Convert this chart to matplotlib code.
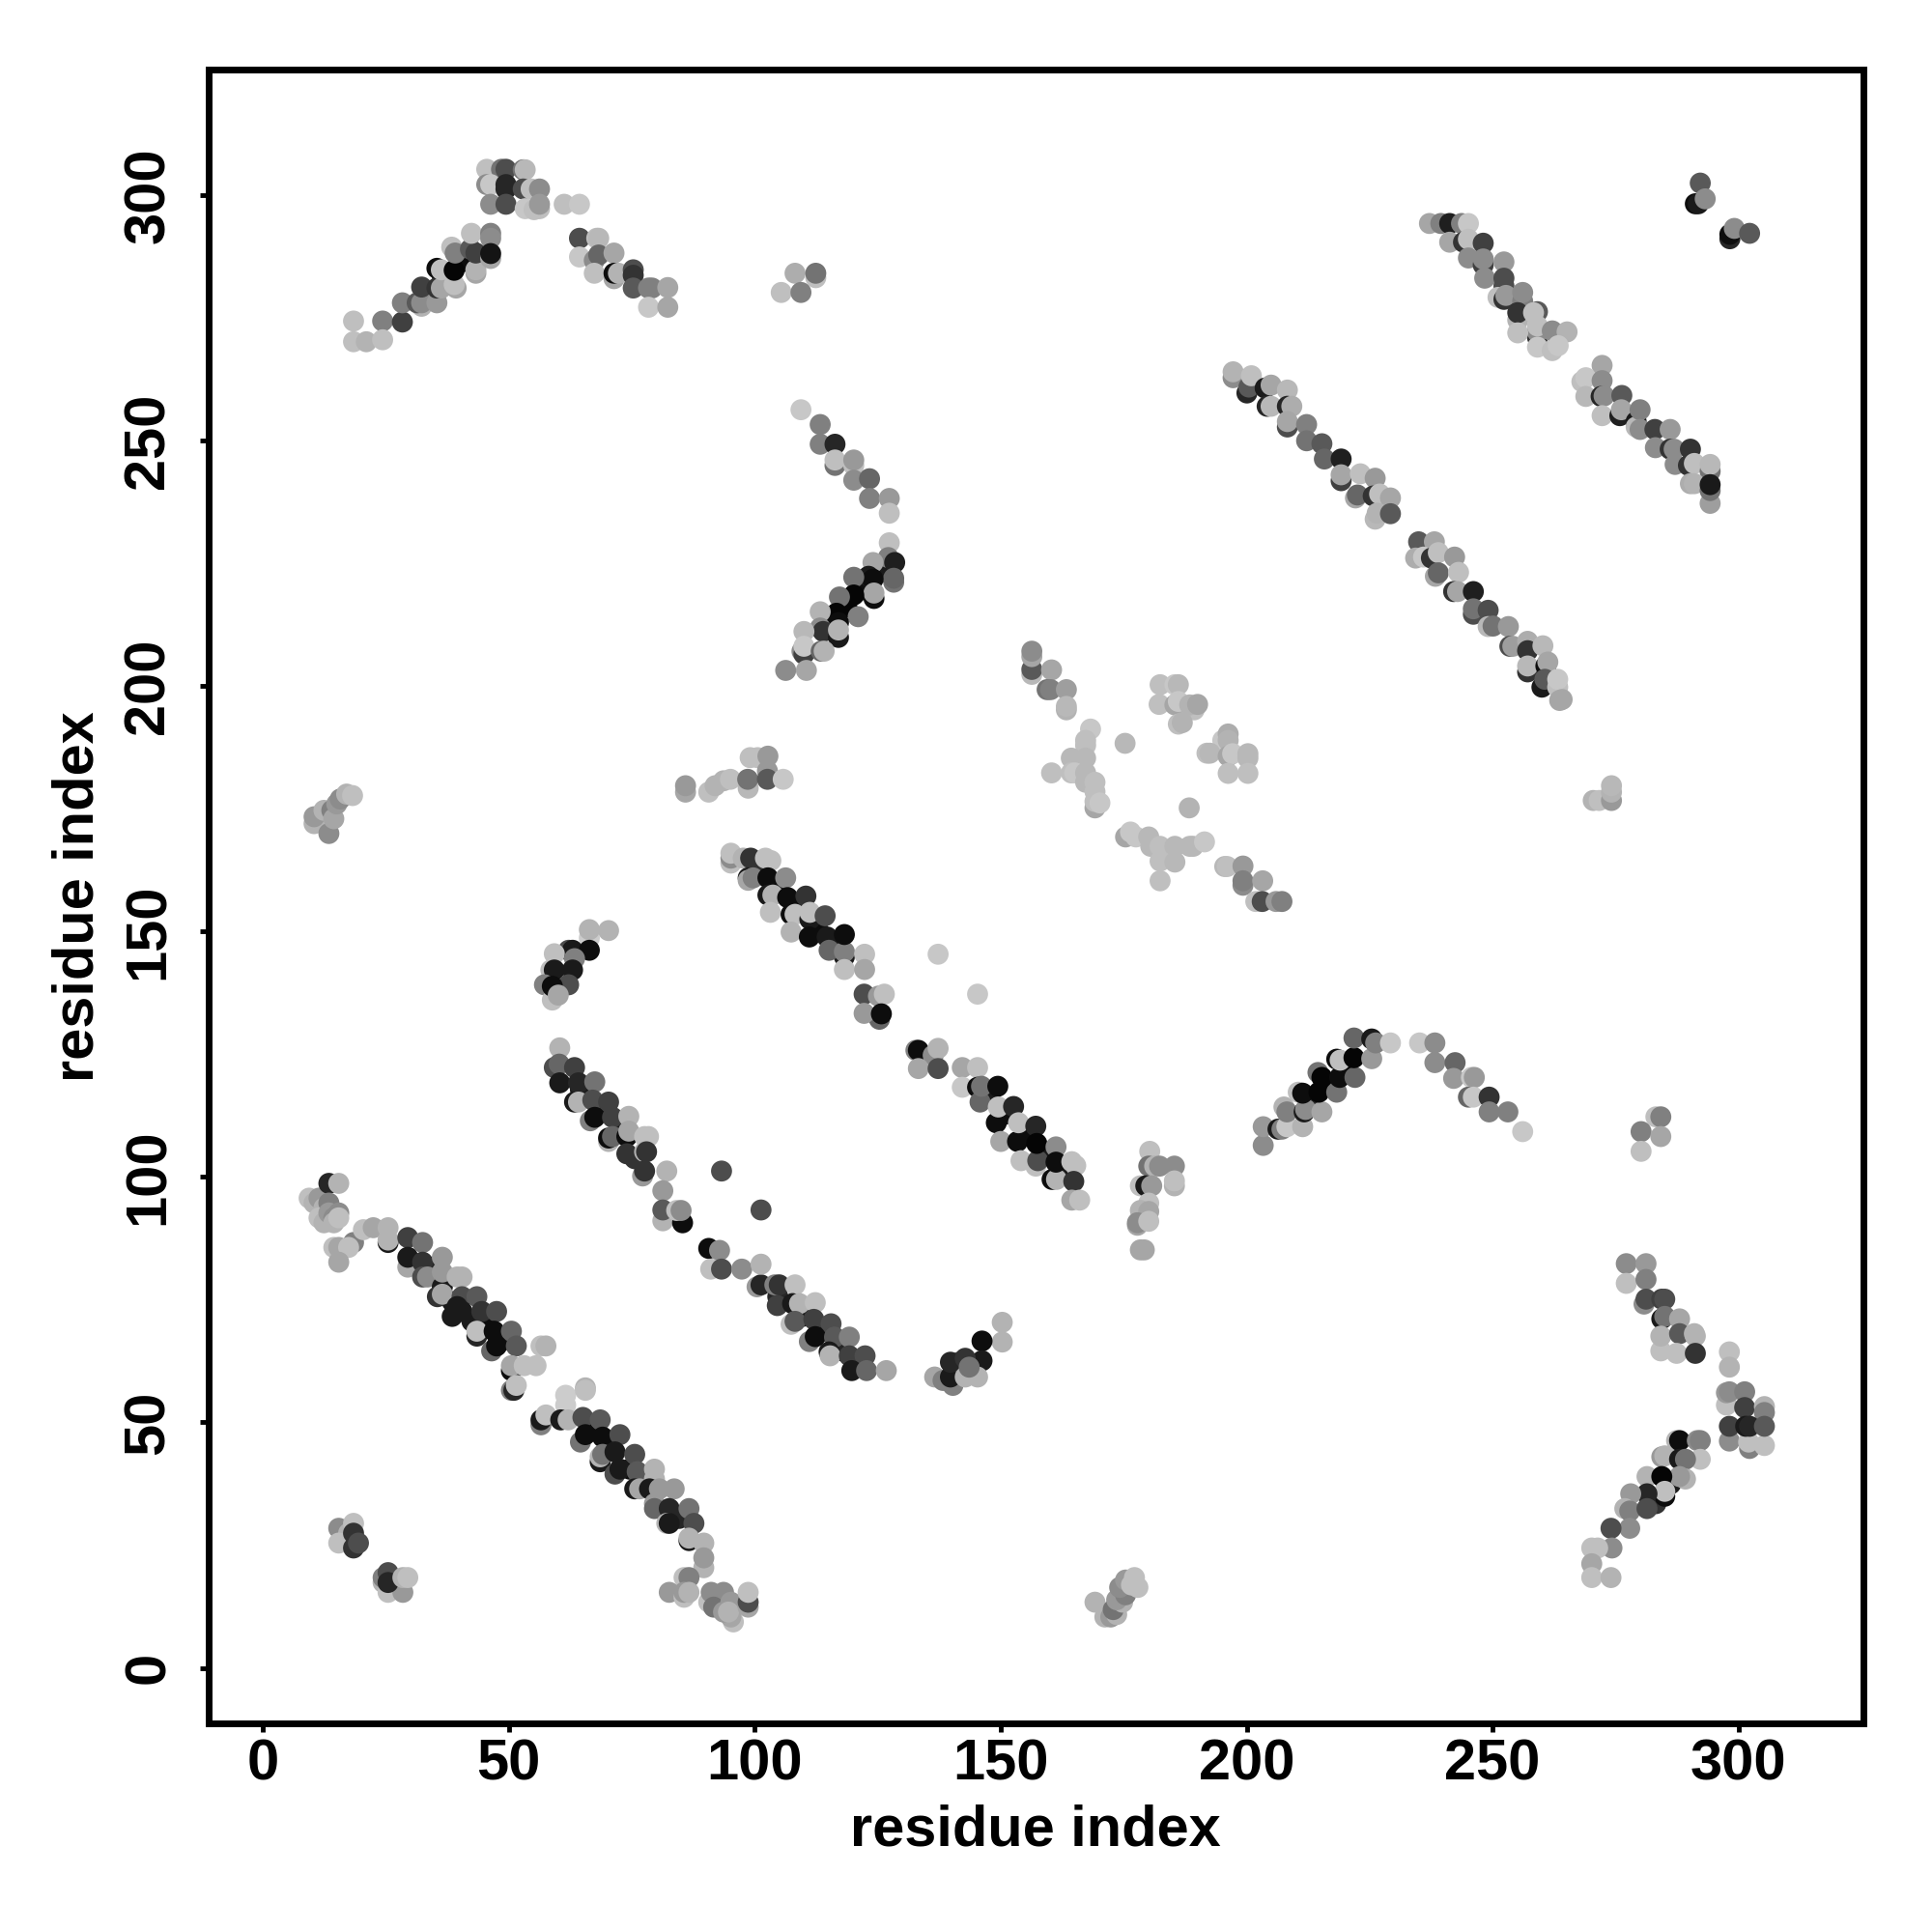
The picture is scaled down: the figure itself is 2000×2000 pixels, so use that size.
import matplotlib
matplotlib.use("Agg")
import matplotlib.pyplot as plt

# every contact is (residue i, residue j, gray level)
dark_cores = [
    (38,74,.1),(42,70,.1),(45,69,.05),(34,81,.15),(48,66,.1),(66,48,.05),(70,44,.1),(74,40,.05),(77,38,.15),(84,30,.15),
    (64,117,.1),(68,113,.1),(72,109,.1),(75,103,.2),(104,158,.1),(108,154,.05),(112,150,.05),(116,147,.1),(100,161,.2),
    (150,112,.05),(154,108,.05),(158,104,.1),(162,100,.1),(147,116,.1),(104,75,.15),(109,71,.1),(113,68,.1),(117,64,.15),
    (118,215,.02),(120,218,.05),(114,212,.1),(125,222,.1),(216,118,.05),(219,121,.02),(212,114,.15),(40,285,.05),(36,282,.2),
    (142,60,.15),(285,37,.1),(282,33,.2),
]
strand_low = [
    (9,95,.75),(10,94,.7),(11,95,.6),(12,93,.7),(13,98,.15),(13,94,.5),(11,91,.75),(12,90,.7),(13,92,.6),(14,91,.55),
    (15,92,.55),(15,98,.7),(14,90,.7),(15,91,.75),(14,85,.75),(15,85,.65),(18,86,.5),(17,85,.75),(15,82,.65),
    (20,88.6,.75),(22,89,.65),(25,89,.7),(25,86,.1),(25,86.5,.7),(29,87,.25),(32,86,.45),(29,81,.65),(29,83,.1),(32,82,.2),
    (36,83,.6),(32,79,.3),(33,79,.55),(36,77,.1),(36,80,.6),(39,79,.7),(40,79,.7),(35,75,.2),(36,75.5,.65),(40,75,.3),
    (43,75,.35),(38,71,.1),(39,73,.1),(40,72,.1),(44,72,.2),(47,72,.3),(43,67,.15),(43,68,.75),(46,64,.4),(46.5,68,.05),
    (50,68,.4),(47,65,.05),(51,65,.35),(50,60,.05),(50,61,.65),(56,65,.75),(57,65,.7),(52.6,61,.75),(55,61,.75),
    (50,56,.5),(50.5,56,.15),(51,57,.75),
]
strand_low2 = [
    (56,49,.5),(56,50,.1),(57,51,.75),(61,55,.8),(61,53,.8),(65,56.5,.7),(65,56,.75),(60,50,.1),(61.5,50,.7),(64.5,50.5,.3),
    (68,50,.35),(64,45.5,.45),(65,47,.05),(68.5,46.5,.05),(72,47,.3),(68,41.5,.1),(68,42.5,.7),(68.5,43,.45),(71,39,.3),
    (71,43.5,.1),(75,43,.3),(72,40,.1),(75.5,39.5,.35),(79,40,.7),(79,38,.7),(75,36,.1),(76,36,.65),(78,36,.1),(80,36,.6),
    (83,36,.6),(79,33,.6),(79,32,.4),(82,32,.15),(86,32,.45),(81.5,29,.7),(82,29,.1),(87,29,.3),(86,25.5,.1),(86,26,.7),
    (89,25,.7),(89,20,.7),(89,22,.6),(85,18,.75),(86,18,.5),(82,15,.6),(85,14,.75),(85,15,.6),(86,15,.7),
    (90,13,.75),(90.5,15,.55),(93,15,.55),(91,12,.45),(95,9,.75),(94.5,10,.65),(94.5,13,.6),(93,11,.6),(94,11,.7),
    (98,12,.65),(98,13,.3),(98,15,.75),
]
blob_low = [
    (15,28,.55),(17,27,.7),(18,29,.75),(15,25,.75),(18,27,.2),(18,24,.2),(19,25,.3),
    (24,17,.7),(25,15,.75),(28,15,.6),(24,18,.5),(25,19,.3),(25,17,.15),(28,18,.7),(29,18,.75),
]
strand_mid = [
    (94.5,163,.75),(94.5,164,.55),(94.5,165,.75),(97,164,.7),(98.5,164,.2),(101.5,164,.75),(102.6,163.5,.75),
    (98,160,.1),(98,159.5,.65),(99,160,.5),(102,160,.05),(105.6,160,.55),(102,156.5,.1),(103,156.5,.7),(106,156,.05),
    (109.7,156.3,.2),(102.5,153,.75),(106.7,152.6,.05),(107.5,152.6,.75),(106.7,149,.7),(110.5,151.6,.1),(110.5,153,.75),
    (113.6,152.3,.3),(110.4,148,.05),(114,148,.1),(117.5,144,.1),(114.4,145.3,.4),(117.5,145,.5),(117.5,148.5,.05),
    (121.6,144.5,.75),(117.5,141.4,.75),(121.6,141.4,.65),(121.5,136.4,.3),(124.4,136,.6),(125.6,136.4,.75),
    (124.6,131.3,.4),(121.5,132.5,.6),(125,132.4,.05),(136.5,144.5,.78),(144.5,136.4,.78),
]
strand_mid2 = [
    (132,125,.5),(132.5,125,.05),(135.5,124,.55),(136.5,125.4,.7),(132.5,121.3,.65),(136.5,121.3,.3),(141.4,121.5,.65),
    (144.5,121.5,.75),(141.4,117.5,.78),(144.5,117.5,.05),(145,114.5,.4),(145.3,117.7,.45),(148.6,117.7,.05),
    (148.3,110.3,.05),(148.7,113.5,.75),(151.8,113.6,.15),(149.2,106.5,.65),(152.6,106.5,.05),(152.8,110.3,.75),
    (156.3,109.6,.15),(153.3,102.6,.75),(156.3,101.5,.75),(156.7,102.6,.3),(156.5,106.1,.02),(160.4,105.4,.55),
    (159.6,98.8,.05),(160.5,98.8,.7),(160.4,102.3,.05),(163.6,102.4,.75),(164.4,101.6,.75),(164,98.4,.2),
    (163.6,94.6,.65),(165.2,94.6,.75),
]
strand_left = [
    (59.8,125.5,.7),(58.7,121.5,.3),(59.7,122.2,.4),(62.8,121.5,.25),(59.8,118.4,.1),(63.6,118.4,.15),(66.9,118.6,.45),
    (62.8,114.5,.1),(63.6,114.5,.7),(66.5,114.9,.3),(69.7,114.5,.25),(66,110.7,.5),(66.9,111.4,.05),(70.5,111.4,.25),
    (73.8,111.6,.7),(69.7,106.5,.7),(69.7,107.2,.05),(70.5,107.5,.4),(73.4,107.5,.05),(73.8,108.6,.65),(77,107.5,.75),
    (77.8,107.5,.75),(73.4,104,.2),(77,104.4,.7),(77.4,104.4,.2),(76.6,99.5,.6),(77,100.5,.2),(81.5,100.5,.7),
    (80.7,96.5,.6),(80.7,90.4,.7),(80.7,92.6,.35),(84.7,90,.05),(83.5,92.5,.75),(84.4,92.5,.55),(92.6,100.5,.3),(100.6,92.6,.3),
]
arc_left = [
    (65.8,147.8,.8),(65.8,149.5,.7),(69.7,149.3,.7),(61.6,145.3,.3),(62.4,145.3,.1),(65.8,145.3,.05),(58.7,144.6,.75),
    (62.8,143.6,.5),(58,141.3,.75),(58.7,141.3,.1),(62.4,141.3,.1),(61.6,138.3,.3),(56.7,138.3,.5),(58.3,135.2,.75),
    (58.3,138,.05),(59.5,136.2,.65),
]
strand_bot = [
    (90,84.8,.05),(92.2,84.4,.55),(90.4,80.6,.75),(92.6,80.6,.3),(96.7,80.6,.55),(99.8,77,.6),(100.6,77.4,.15),(100.6,81.6,.7),
    (103.4,77.4,.5),(104.3,77.4,.2),(107.5,77.4,.75),(103.9,73.2,.25),(107,73.6,.1),(108.4,73.6,.7),(111.6,73.8,.75),
    (106.7,69.4,.75),(107.5,70,.35),(111.3,70.4,.25),(114.8,69.5,.3),(110.4,65.9,.5),(111.6,66.9,.05),(115.5,66.8,.35),
    (118.5,66.8,.5),(114.4,63.8,.1),(114.6,63,.7),(118.5,63,.25),(121.7,63,.3),(119,60,.1),(122,60,.4),(126,60,.65),
]
arc_bot = [
    (149.5,69.8,.7),(149.5,65.8,.7),(145.4,66,.05),(145.4,62,.1),(135.8,58.7,.65),(137.5,58,.5),(139.5,57,.5),(139,58.7,.1),
    (140.8,61.7,.3),(139,61.7,.15),(142,62.5,.2),(142,58.7,.7),(144.5,58.7,.7),(142.8,60.7,.45),
]
arc_mid = [
    (202.4,105.7,.55),(202.4,109.5,.6),(205.4,109,.1),(206.2,109,.5),(207.2,109.5,.78),(210.4,109.5,.7),(206.6,113.5,.7),
    (207.2,112.5,.5),(210.7,112.5,.1),(211,113,.55),(214.3,112.5,.65),(209.5,116.5,.75),(210.4,116.3,.05),(213.5,120.5,.45),
    (213.7,116.5,.02),(217.3,116.5,.45),(214.3,119.5,.02),(217.9,119.5,.05),(221,119.5,.4),(217.3,123.2,.05),(218,123,.75),
    (220.8,123.5,.02),(224.4,123.3,.6),(220.8,127.5,.4),(224.4,127.3,.1),(225.2,126.5,.5),(228.2,126.5,.78),
    (234.1,126.5,.78),(237.2,126.5,.55),(237.2,122.5,.55),(241.3,122.5,.4),(241,119.3,.6),(244.6,119.5,.78),(245.2,119.5,.6),
    (244,115.5,.4),(245,115.5,.78),(248.2,115.5,.2),(248.2,112.5,.5),(252,112.5,.5),(255,108.5,.78),
    (282,111.5,.75),(283,111.5,.5),(279,108.5,.5),(283,107.5,.65),(279,104.5,.75),
]
column_180 = [
    (179.4,104.5,.75),(179.2,101.5,.45),(180.4,101.5,.7),(181.4,101.5,.55),(184.4,101.5,.55),(184.4,97.5,.7),(184.4,98.5,.75),
    (177.5,97.5,.75),(178.6,97.5,.1),(179.8,97.5,.6),(179.2,94,.75),(177.5,92.5,.7),(179.2,92.3,.65),(176.9,89.5,.65),
    (176.9,90,.55),(179.2,90.3,.75),(177.5,84.5,.65),(178.3,84.5,.65),
]
blob_175 = [
    (168.3,13,.7),(170.3,10,.7),(171.5,10,.6),(172.7,10.5,.7),(172,11.5,.45),(173.9,13,.7),(172.7,13.5,.6),(174.5,14.5,.5),
    (173.3,16,.55),(174.5,17.5,.6),(175.7,16.5,.75),(176.3,18,.75),(177,16,.75),
]
right_low = [
    (276,81.7,.55),(280,81.7,.6),(276,77.7,.75),(280,78.5,.5),(279.6,73.5,.55),(280,74.5,.3),(283.2,74.5,.25),(283.8,74.5,.3),
    (283.2,70.5,.1),(283.8,71,.45),(286.8,70.5,.65),(283,64,.75),(283,67,.7),(286.8,67.5,.35),(286.2,63.5,.75),(290,67,.7),
    (289.8,67.5,.7),(290,63.5,.2),(296.9,63.8,.75),(296.9,60.7,.7),(296.3,53,.75),(296.3,55.5,.6),(296.9,55.7,.55),
    (300,55.7,.5),(300,52.5,.25),(304,52.7,.7),(304,51.5,.5),(296.9,45.7,.55),(296.9,48.7,.25),(301,44.2,.5),(300.8,45.5,.75),
    (300.2,48.7,.1),(301,48.7,.15),(304,44.8,.75),(304,48.7,.35),
]
right_arc = [
    (286.2,45.8,.7),(286.8,45.8,.05),(290.4,45.8,.55),(291,45.8,.5),(291,42,.75),(283.2,42.5,.6),(283.8,42.7,.7),(286.8,42,.1),
    (288,42,.45),(288,38,.7),(286.8,38.5,.6),(280.2,38.5,.7),(283.2,38.5,.02),(283.8,34.5,.05),(283.8,35.5,.75),(280.2,35,.15),
    (276.9,35,.6),(275.7,32,.7),(276.7,31.5,.5),(280.2,32,.3),(276.7,28,.55),(272.9,28,.3),(273.1,24,.55),(269,24,.75),
    (270.2,24,.75),(269,20.8,.65),(269,18,.75),(272.9,18,.7),
]
top_left = [
    (18,273,.75),(18,268.8,.75),(20.6,268.8,.7),(23.9,273,.5),(23.9,269.2,.75),(27.9,272.8,.25),(27.9,276.7,.5),(31.8,276,.7),
    (30.9,276.7,.35),(31.8,276.7,.55),(34.9,276.7,.6),(31.8,279.9,.25),(34.9,279.7,.2),(35.8,279.7,.65),(38.8,279.7,.65),
    (38.4,280.4,.75),(34.9,283.7,.05),(35.8,283.4,.75),(38.4,283.3,.02),(42.8,282.7,.65),(42.8,283.4,.7),(37.9,288,.75),
    (38.6,286.8,.5),(41.7,287.6,.35),(42.8,286.8,.25),(41.9,290.8,.75),(45.8,285.7,.65),(45.8,290.8,.5),(45.8,289.8,.55),
    (45.8,286.7,.08),(45,303.8,.75),(48,303.8,.45),(48.9,303.8,.3),(52.4,303.7,.45),(52.8,303.7,.72),(45,300.7,.55),
    (45.8,300.7,.78),(48.9,300.7,.15),(48.9,299.8,.15),(52.4,299.8,.3),(54,299.8,.75),(55.7,299.8,.55),(45.8,296.7,.55),
    (48.9,296.7,.3),(52.8,295.8,.78),(54.6,295.6,.75),(55.7,295.8,.75),(55.7,296.7,.6),(60.7,296.7,.75),(63.8,296.7,.78),
    (63.8,289.8,.3),(67.3,289.8,.75),(67.7,289.8,.72),(63.8,286,.78),(66.8,285.3,.55),(67.7,286.4,.4),(70.8,286.8,.65),
    (66.8,282.7,.75),(70.8,281.6,.65),(70.8,282.7,.05),(71.7,282.7,.7),(74.7,283.4,.3),(74.7,282.3,.2),(74.7,279.7,.35),
    (77.8,279.7,.5),(78.5,279.7,.5),(81.7,279.8,.65),(77.8,275.8,.78),(81.7,275.8,.65),
    (107.5,282.7,.68),(111.7,281.8,.75),(111.7,282.7,.45),(104.7,278.8,.75),(108.7,278.8,.5),
]
bracket_120 = [
    (108.7,255,.78),(112.6,252,.5),(112.6,248,.5),(115.6,248,.15),(115.6,243.7,.45),(115.6,244.8,.75),(119.4,243.7,.75),
    (119.4,244.8,.6),(119.4,240.7,.55),(122.6,241,.4),(122.6,237,.5),(126.6,237,.6),(126.6,234,.75),(126.6,228,.75),
    (126.4,225,.5),(127.7,224,.12),(123.3,224,.65),(127.5,220,.45),(127.5,220.8,.4),(122.4,221.2,.1),(123.3,220.6,.05),
    (119.4,221,.45),(123.5,216.7,.05),(123.5,217.8,.65),(119.4,217.4,.02),(116.5,217,.45),(120.3,213,.5),(115.9,213.7,.02),
    (116.3,211.8,.05),(112.6,214,.7),(112.6,210.7,.55),(113.2,210,.2),(116.3,208.8,.1),(116.3,210.3,.7),(109.3,210,.72),
    (108.9,206,.55),(109.3,205.4,.25),(109.3,207,.78),(112.8,206,.4),(113.4,206,.7),(105.6,202.1,.55),(109.8,202.1,.65),
]
pair_290 = [
    (291,301,.35),(290,296.8,.05),(290.6,296.8,.1),(292,297.8,.55),(297,289.7,.15),(297,290.6,.05),(297.9,291.8,.55),(301,290.8,.35),
]
strand_top = [
    (236.1,292.8,.65),(238.4,292.8,.5),(240.2,292.8,.12),(242.6,292.8,.5),(244,292.8,.78),(240.2,289,.65),(243,289,.2),
    (244,289.6,.75),(247,288.8,.25),(244,285.8,.55),(247,284.4,.25),(247,285.6,.55),(251.2,285,.6),(247.3,281.7,.55),
    (251.2,280.1,.3),(251.2,281.7,.3),(250,277.8,.75),(251.2,277.4,.2),(251.6,278.2,.6),(255,277,.5),(255,278.8,.55),
    (254,273.2,.7),(254,274.7,.2),(258,274.9,.35),(257.2,274.7,.75),(258,269.7,.2),(258,270.8,.55),(258,272,.75),
    (254,270.6,.75),(261,271,.55),(264,270.8,.7),(258,267.7,.78),(261,267,.75),(262.2,268,.78),
]
strand_200 = [
    (196.3,261.5,.55),(196.3,262.7,.7),(199.1,258.4,.15),(199.5,259.6,.35),(200,261.9,.75),(202.8,259.4,.1),(204,260,.65),
    (207.3,259,.72),(203.2,255.7,.15),(204,255.7,.72),(207.3,255.7,.15),(208.2,255.7,.68),(207.3,251.5,.3),(207.3,252.6,.65),
    (211.2,252,.5),(211.2,248.7,.45),(214.3,248.1,.35),(214.8,245,.4),(218.2,245,.12),(218.2,240.6,.25),(218.2,241.8,.65),
    (222.1,242,.75),(225.1,241.1,.6),(221.1,237.1,.65),(221.5,237.7,.4),(224.7,237.5,.2),(226,237.9,.75),(228.2,237.1,.65),
    (225.1,232.8,.72),(225.5,234,.7),(228.2,233.9,.35),
]
strand_235 = [
    (233.9,228.2,.35),(237.1,228.2,.65),(233.3,224.9,.68),(234.9,225.1,.78),(236.5,224.9,.2),(237.9,226,.75),(241.2,225.1,.6),
    (237.3,221.2,.65),(237.9,221.9,.4),(242,222,.75),(241,218.1,.2),(241.8,218.1,.65),(245,218.1,.12),(245,213.5,.3),
    (245,214.6,.45),(248,214.3,.3),(248,211,.72),(249,211.1,.45),(252.1,211,.6),(252.4,207,.3),(253,207,.62),(256,208,.68),
    (256,206.1,.2),(259.1,207.1,.72),(256,201.8,.2),(256,203,.72),(259.7,203,.05),(260.1,203.8,.65),(258.9,198.7,.1),
    (259.5,200.3,.35),(262.1,198.7,.75),(262.1,200.3,.78),(262.5,196,.65),(263,196.2,.65),
]
strand_270 = [
    (271.1,264,.65),(267,260.7,.75),(267.8,261.5,.78),(271.1,260.9,.55),(267.8,257.7,.72),(270.9,257.7,.15),(271.5,257.8,.55),
    (275.1,257.9,.35),(271.1,253.8,.75),(274.7,253.8,.12),(275,255,.65),(278,252.6,.1),(278,251.5,.72),(278.8,255,.5),
    (278.8,251,.55),(281.8,251,.25),(284.9,251,.6),(281.9,247.3,.55),(284.9,247,.2),(285.7,247,.55),(289,247,.2),
    (285.9,243.9,.55),(288.6,243.7,.2),(289.8,244.1,.75),(293,242.5,.45),(293,243.9,.72),(289,240,.68),(289.8,240,.7),
    (293,236,.62),(293,238.6,.45),(293,239.8,.1),
]
pale_centre = [
    (155.5,201.3,.72),(155.5,202.3,.35),(155.5,204.9,.65),(155.5,206,.55),(159.5,202.2,.65),(158.6,198.2,.45),(159.3,198.2,.5),
    (162.5,198.2,.62),(162.5,194.1,.7),(162.5,194.8,.72),(167.4,190.2,.78),(166.4,186.9,.75),(166.4,187.9,.75),(174.4,187.3,.72),
    (163.5,184.3,.72),(166.4,184.3,.72),(159.5,181.3,.75),(163.5,181.3,.75),(164.2,181.3,.78),(166.4,181.3,.72),(166.4,179.4,.72),
    (168.3,179.4,.75),(168.3,177.5,.75),(168.3,174.2,.65),(168.3,175.5,.75),(169.3,175.2,.78),
    (181.5,199.2,.75),(184.5,199.2,.78),(185.2,199.2,.72),(181.3,195.2,.75),(184.5,195.1,.65),(185.2,195.8,.78),(188.4,194.1,.75),
    (187.5,195.1,.7),(189.1,195.2,.65),(185.2,191.2,.75),(186,191.5,.7),
    (194.2,187.9,.78),(195.3,189.2,.68),(195.3,187.9,.7),(191,185.3,.75),(191.6,185.3,.72),(195.3,184.7,.65),(196.2,185.2,.78),
    (199.3,184.3,.72),(199.3,185.2,.72),(195.3,181.2,.75),(199.3,181.2,.75),(187.4,174.2,.7),
    (174.5,168.3,.65),(175.5,169.3,.78),(176.6,168.3,.78),(179.2,168.3,.72),(179.6,166.4,.72),(181.5,166.4,.75),(184.5,166.4,.72),
    (187.5,166.4,.72),(188.2,166.4,.72),(190.5,167.3,.78),(181.5,163.4,.75),(184.5,163.2,.72),(181.5,159.4,.75),
    (194.6,162.3,.72),(195.1,162.3,.75),(198.3,162.4,.6),(198.3,158.5,.55),(198.3,159.4,.5),(202.3,159.4,.65),(200.9,155.2,.75),
    (202.2,155.2,.3),(205,155.2,.6),(206.2,155.2,.5),
]
patch_95 = [
    (85.3,177.4,.65),(85.3,178.7,.6),(90,177.4,.75),(91.3,178.7,.7),(93,179.7,.7),(94.4,180,.75),(98,178.2,.72),(97.9,180,.45),
    (98.4,184.4,.75),(99.9,184.4,.75),(102,184.7,.6),(101.9,181.7,.6),(101.9,180,.35),(105.1,180,.78),
]
patch_12 = [
    (10,171,.7),(10,172.4,.6),(13,169,.55),(12,173.7,.7),(13.6,173.7,.5),(14,172,.65),(14.6,175,.6),(15.3,176,.55),(16.6,177,.7),(17.8,176.7,.75),
]
patch_272 = [(269.3,175.7,.7),(270.5,175.7,.75),(273,175.7,.6),(273,177.4,.7),(273,178.7,.72)]

clusters = [dark_cores, strand_low, strand_low2, blob_low, strand_mid, strand_mid2, strand_left, arc_left, strand_bot, arc_bot,
            arc_mid, column_180, blob_175, right_low, right_arc, top_left, bracket_120, pair_290, strand_top,
            strand_200, strand_235, strand_270, pale_centre, patch_95, patch_12, patch_272]

axis_ticks = [0, 50, 100, 150, 200, 250, 300]
axis_label = "residue index"

plt.rcParams['font.family'] = ['Liberation Sans', 'DejaVu Sans']
plt.rcParams['font.weight'] = 'bold'

fig = plt.figure(figsize=(20, 20), dpi=100)
ax = fig.add_axes([0.108, 0.108, 0.8563, 0.856])

for cluster in clusters:
    # my first reading used a slightly too wide tick spacing, so correct it here
    xs = [p[0] * 1.0028 + 0.4 for p in cluster]
    ys = [p[1] * 1.0038 + 0.33 for p in cluster]
    cols = [str(p[2]) for p in cluster]
    ax.scatter(xs, ys, c=cols, s=245, linewidths=0)

ax.set_xlim(-11.0, 325.3)
ax.set_ylim(-11.3, 325.6)
ax.set_xticks(axis_ticks)
ax.set_yticks(axis_ticks)
ax.set_xticklabels(axis_ticks, fontsize=42.8, fontweight='bold')
ax.set_yticklabels(axis_ticks, fontsize=42.8, fontweight='bold', rotation=90, va='center')
ax.tick_params(axis='x', length=6.5, width=3.5, pad=4.5)
ax.tick_params(axis='y', length=6.5, width=3.5, pad=18)
ax.set_xlabel(axis_label, fontsize=42.8, fontweight='bold', labelpad=9.5)
ax.set_ylabel(axis_label, fontsize=42.8, fontweight='bold', labelpad=13)
for side in ax.spines.values():
    side.set_linewidth(5)

fig.savefig("out.png", dpi=100)
